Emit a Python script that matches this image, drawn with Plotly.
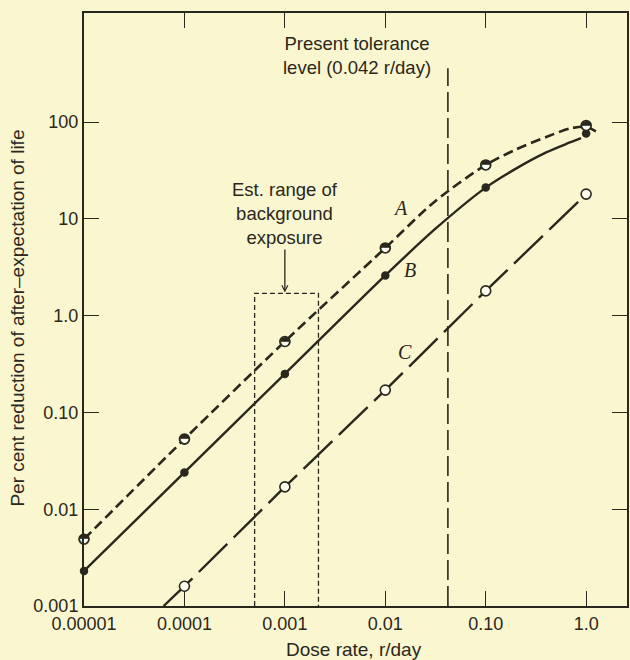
import numpy as np
import plotly.graph_objects as go

# Measured points (dose rate in r/day, per cent reduction of after-expectation of life)
dose = [0.00001, 0.0001, 0.001, 0.01, 0.10, 1.0]
a_points = [0.0049, 0.053, 0.54, 5.0, 36, 92]
b_points = [0.0023, 0.024, 0.25, 2.6, 21, 76]
c_dose = [0.0001, 0.001, 0.01, 0.10, 1.0]
c_points = [0.0016, 0.017, 0.17, 1.8, 18]

# Fitted curves through the points
a_curve_x = [0.00001, 0.0001, 0.001, 0.01, 0.0316, 0.10, 0.2, 0.4, 0.7, 1.0, 1.25]
a_curve_y = [0.0049, 0.053, 0.54, 5.0, 15.3, 36, 52, 70, 86, 89, 80]
b_curve_x = [0.00001, 0.0001, 0.001, 0.01, 0.0316, 0.10, 0.2, 0.4, 0.65, 0.89]
b_curve_y = [0.0023, 0.024, 0.25, 2.6, 7.9, 21, 33, 48.5, 60, 68]
c_curve_x = [0.000062, 0.0001, 0.001, 0.01, 0.10, 1.0]
c_curve_y = [0.001, 0.0016, 0.017, 0.17, 1.8, 18]

# Reference levels
tolerance_rate = 0.042
tolerance_top = 360
background_range = [0.0005, 0.00216]
background_top = 1.7
arrow_top = 5.0

x_ticks = [0.00001, 0.0001, 0.001, 0.01, 0.10, 1.0]
x_tick_text = ["0.00001", "0.0001", "0.001", "0.01", "0.10", "1.0"]
y_ticks = [0.001, 0.01, 0.10, 1.0, 10, 100]
y_tick_text = ["0.001", "0.01", "0.10", "1.0", "10", "100"]

INK = "#2a271c"
PAPER = "#faf6cf"
FONT = "Liberation Sans"

fig = go.Figure()

# Tolerance level line
fig.add_trace(go.Scatter(
    x=[tolerance_rate, tolerance_rate], y=[0.001, tolerance_top], mode="lines",
    line=dict(color=INK, width=1.6, dash="20px,6px"), hoverinfo="skip"))

# Background exposure box
bx0, bx1 = background_range
fig.add_trace(go.Scatter(
    x=[bx0, bx0, bx1, bx1], y=[0.001, background_top, background_top, 0.001],
    mode="lines", line=dict(color=INK, width=1.3, dash="5px,3px"), hoverinfo="skip"))

# Curves
fig.add_trace(go.Scatter(x=a_curve_x, y=a_curve_y, mode="lines",
                         line=dict(color=INK, width=2.6, dash="10px,5px", shape="spline", smoothing=0.8)))
fig.add_trace(go.Scatter(x=b_curve_x, y=b_curve_y, mode="lines",
                         line=dict(color=INK, width=2.4, shape="spline", smoothing=0.8)))
fig.add_trace(go.Scatter(x=c_curve_x, y=c_curve_y, mode="lines",
                         line=dict(color=INK, width=2.4, dash="40px,9px")))

# Markers
fig.add_trace(go.Scatter(x=dose, y=b_points, mode="markers", cliponaxis=False,
                         marker=dict(symbol="circle", size=8.5, color=INK, line=dict(width=0))))
fig.add_trace(go.Scatter(x=c_dose, y=c_points, mode="markers", cliponaxis=False,
                         marker=dict(symbol="circle", size=10, color="#fffdf0",
                                     line=dict(color=INK, width=1.6))))
fig.add_trace(go.Scatter(x=dose, y=a_points, mode="markers", cliponaxis=False,
                         marker=dict(symbol="circle", size=10, color="#fffdf0",
                                     line=dict(color=INK, width=1.6))))
fig.add_trace(go.Scatter(x=dose, y=a_points, mode="text", cliponaxis=False,
                         text=["\u25d3"] * len(dose), textposition="middle center",
                         textfont=dict(family="DejaVu Sans", size=13, color=INK)))

L = np.log10
annotations = [
    dict(x=L(0.00525), y=L(492), xref="x", yref="y", showarrow=False,
         text="Present tolerance<br>level (0.042 r/day)",
         font=dict(family=FONT, size=18.5, color=INK)),
    dict(x=L(0.001), y=L(11.4), xref="x", yref="y", showarrow=False,
         text="Est. range of<br>background<br>exposure",
         font=dict(family=FONT, size=18.5, color=INK)),
    dict(x=L(0.001), y=L(background_top * 1.02), ax=L(0.001), ay=L(arrow_top),
         xref="x", yref="y", axref="x", ayref="y", text="", showarrow=True,
         arrowhead=5, arrowsize=0.9, arrowwidth=1.3, arrowcolor=INK),
    dict(x=L(0.01406), y=L(12.8), xref="x", yref="y", showarrow=False, text="<i>A</i>",
         font=dict(family="Liberation Serif", size=20, color=INK)),
    dict(x=L(0.01766), y=L(2.96), xref="x", yref="y", showarrow=False, text="<i>B</i>",
         font=dict(family="Liberation Serif", size=20, color=INK)),
    dict(x=L(0.01574), y=L(0.424), xref="x", yref="y", showarrow=False, text="<i>C</i>",
         font=dict(family="Liberation Serif", size=20, color=INK)),
    dict(x=0.497, y=-0.074, xref="paper", yref="paper", showarrow=False,
         text="Dose rate, r/day", font=dict(family=FONT, size=19, color=INK),
         yanchor="middle"),
    dict(x=-0.123, y=0.485, xref="paper", yref="paper", showarrow=False, textangle=-90,
         text="Per cent reduction of after\u2013expectation of life",
         font=dict(family=FONT, size=19, color=INK), xanchor="center", yanchor="middle"),
]

axis_common = dict(
    type="log", showgrid=False, zeroline=False, showline=True, linewidth=2,
    linecolor=INK, mirror="ticks", ticks="inside", ticklen=15, tickwidth=1.3,
    tickcolor=INK, tickfont=dict(family=FONT, size=18, color=INK),
)

fig.update_layout(
    width=630, height=660,
    margin=dict(l=84, r=1, t=13, b=54),
    paper_bgcolor=PAPER, plot_bgcolor=PAPER,
    showlegend=False,
    annotations=annotations,
    xaxis=dict(axis_common, range=[-5, 0.4067], tickvals=x_ticks, ticktext=x_tick_text),
    yaxis=dict(axis_common, range=[-3, 3.126], tickvals=y_ticks, ticktext=y_tick_text),
)

fig.write_html("out.html")
